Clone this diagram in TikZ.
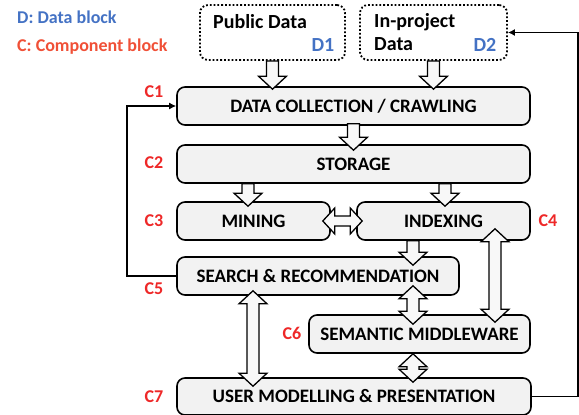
\documentclass[tikz,border=0pt]{standalone}
\usepackage{fontspec}
\setmainfont{Carlito}
\usetikzlibrary{calc,positioning,arrows.meta}
\definecolor{dblue}{RGB}{68,114,196}
\definecolor{cred}{RGB}{238,40,40}
\definecolor{lred}{RGB}{240,80,55}
\definecolor{boxgray}{RGB}{242,242,242}
\definecolor{arrgray}{RGB}{248,248,248}

\begin{document}
\begin{tikzpicture}[x=1pt,y=-1pt,
            comp/.style={draw,line width=1.6pt,rounded corners=8pt,fill=boxgray,minimum height=38pt,
                font=\bfseries\fontsize{19}{21}\selectfont},
            data/.style={draw,line width=1.8pt,dotted,rounded corners=8pt,minimum height=55pt},
            txt/.style={font=\bfseries\fontsize{20}{22}\selectfont,inner sep=0pt},
            legtxt/.style={font=\bfseries\fontsize{18}{20}\selectfont,inner sep=0pt},
            clab/.style={font=\bfseries\fontsize{18}{20}\selectfont,text=cred,inner sep=0pt},
            fatdown/.style={draw,line width=1.3pt,fill=arrgray,to path={
                let \p1=(\tikztostart), \p2=(\tikztotarget) in
                (\x1-6pt,\y1) -- (\x1+6pt,\y1) -- (\x1+6pt,\y2+13pt) -- (\x1+14pt,\y2+13pt)
                -- (\x1,\y2) -- (\x1-14pt,\y2+13pt) -- (\x1-6pt,\y2+13pt) -- cycle}},
            fatboth/.style={draw,line width=1.3pt,fill=arrgray,to path={
                let \p1=(\tikztostart), \p2=(\tikztotarget) in
                (\x1,\y1) -- (\x1+14pt,\y1-13pt) -- (\x1+6pt,\y1-13pt) -- (\x1+6pt,\y2+13pt)
                -- (\x1+14pt,\y2+13pt) -- (\x1,\y2) -- (\x1-14pt,\y2+13pt) -- (\x1-6pt,\y2+13pt)
                -- (\x1-6pt,\y1-13pt) -- (\x1-14pt,\y1-13pt) -- cycle}},
            fatside/.style={draw,line width=1.3pt,fill=arrgray,to path={
                let \p1=(\tikztostart), \p2=(\tikztotarget) in
                (\x1,\y1) -- (\x1+12pt,\y1+13pt) -- (\x1+12pt,\y1+5pt) -- (\x2-12pt,\y1+5pt)
                -- (\x2-12pt,\y1+13pt) -- (\x2,\y1) -- (\x2-12pt,\y1-13pt) -- (\x2-12pt,\y1-5pt)
                -- (\x1+12pt,\y1-5pt) -- (\x1+12pt,\y1-13pt) -- cycle}},
            back/.style={line width=1.6pt,-{Latex[length=7pt,width=7pt]}}
        ]
            \useasboundingbox (0,0) rectangle (579,415);

            % legend
            \node[legtxt,text=dblue,anchor=west] (legd) at (17,17) {D: Data block};
            \node[legtxt,text=lred,anchor=west]  (legc) at (17,47) {C: Component block};

            % data blocks
            \node[data,minimum width=145pt] (d1) at (272.5,32.5) {};
            \node[data,minimum width=147pt] (d2) at (433.5,32.5) {};
            \node[txt,anchor=west] (d1t) at (213,22) {Public Data};
            \node[txt,text=dblue]  (d1l) at (323,45) {D1};
            \node[txt,anchor=west] (d2t) at (374,22) {In-project};
            \node[txt,anchor=west] (d2u) at (374,44) {Data};
            \node[txt,text=dblue]  (d2l) at (485,45) {D2};

            % component blocks
            \node[comp,minimum width=353pt] (c1) at (353.5,106) {DATA COLLECTION / CRAWLING};
            \node[comp,minimum width=353pt] (c2) at (353.5,164) {STORAGE};
            \node[comp,minimum width=153pt] (c3) at (253.5,221) {MINING};
            \node[comp,minimum width=173pt] (c4) at (443.5,221) {INDEXING};
            \node[comp,minimum width=282pt] (c5) at (318,276) {SEARCH \& RECOMMENDATION};
            \node[comp,minimum width=221pt] (c6) at (419.5,334) {SEMANTIC MIDDLEWARE};
            \node[comp,minimum width=354pt,minimum height=37pt] (c7) at (354,396.5) {USER MODELLING \& PRESENTATION};

            \node[clab] (l1) at (154,92)  {C1};
            \node[clab] (l2) at (154,163) {C2};
            \node[clab] (l3) at (154,221) {C3};
            \node[clab] (l4) at (548,221) {C4};
            \node[clab] (l5) at (154,289) {C5};
            \node[clab] (l6) at (292,333) {C6};
            \node[clab] (l7) at (154,397) {C7};

            % arrow columns
            \coordinate (ka) at (248,0);
            \coordinate (kb) at (445,0);
            \coordinate (kc) at (413,0);
            \coordinate (kd) at (495,0);
            \coordinate (ke) at (253,0);

            \draw[fatdown] (d1.south) to ($(d1.south |- c1.north)+(0,3)$);
            \draw[fatdown] (d2.south) to ($(d2.south |- c1.north)+(0,3)$);
            \draw[fatdown] ($(c1.south)+(0,-2)$) to ($(c2.north)+(0,6)$);
            \draw[fatdown] (c2.south -| ka) to ($(c3.north -| ka)+(0,5)$);
            \draw[fatdown] (c2.south -| kb) to ($(c4.north -| kb)+(0,5)$);
            \draw[fatdown] (c4.south -| kc) to ($(c5.north -| kc)+(0,9)$);
            \draw[fatside] ($(c3.east)+(-8,0)$) to ($(c4.west)+(6,0)$);
            \draw[fatboth] ($(c4.south -| kd)+(0,-12)$) to ($(c6.north -| kd)+(0,8)$);
            \draw[fatboth] ($(c5.south -| kc)+(0,-10)$) to ($(c6.north -| kc)+(0,10)$);
            \draw[fatboth] ($(c5.south -| ke)+(0,-5)$) to ($(c7.north -| ke)+(0,9)$);
            \draw[fatboth] ($(c6.south -| kc)+(0,0)$) to ($(c7.north -| kc)+(0,5)$);

            % feedback lines
            \draw[back] (c5.west) -- ++(-49,0) |- (c1.west);
            \draw[back] (c7.east) -- ++(46,0) |- (d2.east);
        \end{tikzpicture}
\end{document}
